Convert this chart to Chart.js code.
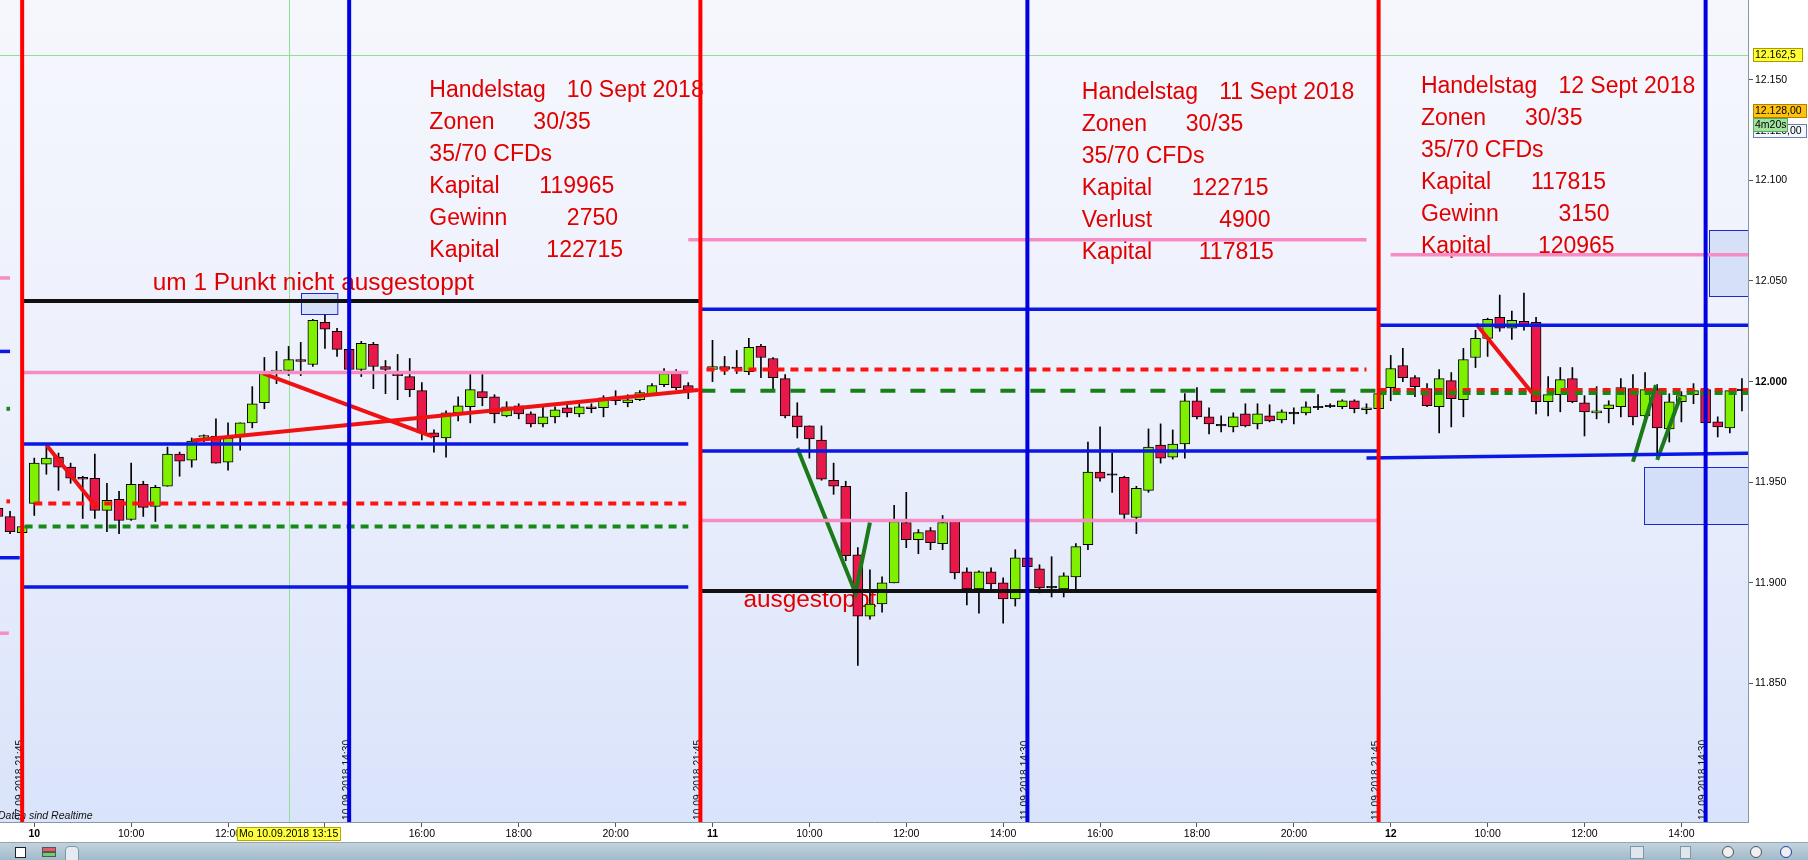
<!DOCTYPE html>
<html>
<head>
<meta charset="utf-8">
<script src="https://cdn.jsdelivr.net/npm/chart.js@4"></script>
<style>
  html, body { margin: 0; padding: 0; background: #fff; overflow: hidden; }
  #wrap { width: 1808px; height: 842px; }
  #bar { position: relative; width: 1808px; height: 18px; box-sizing: border-box; border-top: 1px solid #8fa8b8;
         background: linear-gradient(#c3d3dd, #a0bacb); }
  #bar span { position: absolute; box-sizing: border-box; }
</style>
</head>
<body>
<div id="wrap"><canvas id="chart" width="1808" height="842"></canvas></div>
<div id="bar">
  <span style="left:15px;top:4px;width:11px;height:11px;background:#fff;border:1px solid #222"></span>
  <span style="left:42px;top:4px;width:14px;height:5px;background:#e85a6a;border:1px solid #555"></span>
  <span style="left:42px;top:9px;width:14px;height:5px;background:#6bd06b;border:1px solid #555"></span>
  <span style="left:65px;top:3px;width:14px;height:15px;background:#e4ecf1;border:1px solid #7e97a8;border-radius:4px 4px 0 0"></span>
  <span style="left:1630px;top:3px;width:14px;height:13px;background:#dfe7ec;border:1px solid #7e97a8"></span>
  <span style="left:1680px;top:3px;width:11px;height:13px;background:#dfe7ec;border:1px solid #7e97a8"></span>
  <span style="left:1722px;top:3px;width:12px;height:12px;background:#f0f0f0;border:1px solid #555;border-radius:6px"></span>
  <span style="left:1750px;top:3px;width:12px;height:12px;background:#f0f0f0;border:1px solid #555;border-radius:6px"></span>
  <span style="left:1780px;top:3px;width:12px;height:12px;background:#f0f0f0;border:1px solid #2040a0;border-radius:6px"></span>
</div>
<script>
// 15-minute DAX CFD candles, index 0 = 10.09.2018 08:00 (first entry is index -3)
const firstIdx = -3;
const opens = [
  11937, 11933, 11925,
  11939.5, 11959, 11962.5, 11957.5, 11952.5, 11952, 11936, 11941.5, 11931.5, 11949,
  11938, 11948, 11964, 11961, 11972.5, 11973, 11960, 11972.5, 11979.5, 11989.5,
  12005, 12005.5, 12011, 12008.5, 12029.5, 12025, 12016, 12006, 12018.5, 12007.5,
  12003.5, 12002.5, 11995.5, 11974.5, 11972, 11984.5, 11987.5, 11995, 11992.5, 11983,
  11988, 11984, 11979, 11982.5, 11987, 11984, 11987.5, 11987, 11992.5, 11989.5,
  11991, 11994, 11998.5, 12004, 11998, 11996,
  12006, 12007.5, 12006.5, 12005, 12017.5, 12011.5, 12001.5, 11983, 11978, 11971,
  11951, 11948, 11914, 11883.5, 11889.5, 11900, 11930, 11921.5, 11926, 11919.5,
  11930.5, 11905.5, 11897, 11905.5, 11900, 11892, 11912.5, 11907, 11897.5, 11897,
  11903, 11919, 11955, 11953.5, 11952.5, 11932.5, 11946, 11968.5, 11962.5, 11969,
  11990.5, 11982.5, 11978, 11977.5, 11984, 11979, 11983, 11981, 11984, 11984.5,
  11987, 11987.5, 11987.5, 11990.5, 11986, 11986.5,
  11997, 12008, 12002, 11996.5, 11987.5, 12000.5, 11991, 12012, 12021.5, 12032,
  12026.5, 12030, 12029.5, 11990, 11993.5, 12001.5, 11989.5, 11984.5, 11986.5, 11987.5,
  11996.5, 11983, 11996, 11976.5, 11990, 11993.5, 11996, 11980, 11977, 11995.5
];
const highs = [
  11938, 11935.5, 11928.5,
  11962, 11967.5, 11964.5, 11959.5, 11953, 11964, 11949.5, 11945.5, 11959.5, 11950.5,
  11948.5, 11967.5, 11965, 11972, 11973.5, 11981.5, 11979.5, 11979.5, 11997.5, 12012,
  12015, 12017.5, 12019.5, 12031, 12033, 12026.5, 12017, 12020, 12019.5, 12010.5,
  12013.5, 12011.5, 11999.5, 11976, 11985.5, 11992.5, 12003.5, 12003.5, 11993.5, 11990,
  11989, 11985, 11987.5, 11987.5, 11988.5, 11989, 11989, 11993, 11995.5, 11993.5,
  11995.5, 11999, 12006.5, 12006, 11999.5, 11997.5,
  12020.5, 12012.5, 12015.5, 12021.5, 12018.5, 12012, 12003.5, 11989.5, 11978, 11978,
  11959.5, 11950.5, 11917.5, 11906.5, 11903, 11938.5, 11945, 11926.5, 11927.5, 11933.5,
  11930.5, 11907.5, 11906, 11907.5, 11902.5, 11916.5, 11912.5, 11909, 11913, 11905,
  11919.5, 11970, 11977.5, 11964.5, 11953, 11948, 11976.5, 11979, 11976, 11994,
  11997, 11987, 11983, 11984.5, 11989, 11989, 11988.5, 11986, 11987, 11990,
  11993.5, 11989, 11991, 11991, 11989, 11994.5,
  12013, 12016.5, 12003, 11999, 12006, 12004.5, 12016.5, 12025.5, 12031.5, 12043,
  12035, 12044, 12032, 12002.5, 12007, 12007, 11993, 11997.5, 11990.5, 12001.5,
  12003.5, 12004.5, 11998.5, 11994, 11995, 11999, 11996, 11982.5, 11995.5, 12001.5
];
const lows = [
  11931, 11924.5, 11924.5,
  11933.5, 11954, 11946, 11949.5, 11932, 11932, 11925.5, 11924.5, 11931, 11933,
  11930.5, 11948, 11953, 11957.5, 11970, 11959.5, 11956, 11966, 11977, 11986.5,
  11999, 12003, 12003, 12007.5, 12016.5, 12012.5, 12005, 12002.5, 11996.5, 11994,
  11991, 11992.5, 11971, 11965, 11962.5, 11980.5, 11979.5, 11988, 11979.5, 11982.5,
  11981.5, 11977.5, 11977.5, 11979.5, 11982.5, 11982.5, 11984.5, 11982.5, 11988.5, 11987.5,
  11990.5, 11993.5, 11997.5, 11996, 11991.5, 11994,
  12000, 12003.5, 12004, 12003.5, 12002, 11996.5, 11982, 11972, 11962, 11951,
  11944, 11911, 11859, 11882, 11885.5, 11900, 11917.5, 11914.5, 11916.5, 11916.5,
  11902, 11889, 11885, 11897, 11880, 11888.5, 11908, 11895, 11893, 11893,
  11897, 11916.5, 11950.5, 11945, 11932, 11924.5, 11945, 11959.5, 11961.5, 11962,
  11981.5, 11974, 11975, 11975, 11977.5, 11976.5, 11980, 11979.5, 11979, 11983.5,
  11986, 11987, 11986.5, 11984.5, 11984, 11986,
  11990.5, 12000, 11992.5, 11987.5, 11974.5, 11977.5, 11982.5, 12007, 12012.5, 12025,
  12021, 12025.5, 11984, 11983, 11985, 11989.5, 11973, 11981.5, 11979.5, 11982.5,
  11978.5, 11981, 11962.5, 11970, 11980, 11989, 11979.5, 11972.5, 11974.5, 11985.5
];
const closes = [
  11933, 11925.5, 11928,
  11959.5, 11962, 11957.5, 11952, 11951.5, 11936, 11941, 11931, 11949, 11937.5,
  11947.5, 11964, 11960.5, 11970.5, 11973, 11959.5, 11972, 11979.5, 11989, 12004,
  12005.5, 12011, 12010, 12030.5, 12026, 12016, 12006, 12019, 12007.5, 12006,
  12003, 11996, 11974.5, 11972.5, 11984.5, 11988, 11996, 11992, 11984, 11987.5,
  11984, 11979, 11982.5, 11986, 11984.5, 11987.5, 11986.5, 11992, 11990.5, 11991,
  11994.5, 11998, 12004, 11997, 11996, 11995.5,
  12007.5, 12006, 12006.5, 12017, 12012, 12002, 11983, 11977.5, 11971.5, 11951.5,
  11948, 11913.5, 11883.5, 11889.5, 11900, 11930.5, 11921.5, 11925, 11920, 11930,
  11905, 11897, 11905.5, 11899.5, 11892, 11912.5, 11908, 11897.5, 11897.5, 11903.5,
  11918, 11955, 11952, 11953.5, 11934, 11947, 11967.5, 11962, 11969, 11990.5,
  11982.5, 11979, 11978, 11982.5, 11978, 11984, 11980.5, 11985, 11984, 11987.5,
  11987, 11987.5, 11990.5, 11986.5, 11987, 11994,
  12006.5, 12002, 11997.5, 11988, 12001.5, 11991.5, 12011, 12021.5, 12031, 12026.5,
  12030.5, 12027.5, 11990, 11993.5, 12001, 11990, 11985, 11985.5, 11988.5, 11997,
  11982.5, 11996, 11977, 11990, 11993, 11995.5, 11979.5, 11977.5, 11995.5, 11995.5
];

// axis ticks
const xTickIdx = [0, 8, 16, 24, 32, 40, 48, 56, 64, 72, 80, 88, 96, 104, 112, 120, 128, 136];
const xTickLabels = ['10', '10:00', '12:00', '14:00', '16:00', '18:00', '20:00',
                     '11', '10:00', '12:00', '14:00', '16:00', '18:00', '20:00',
                     '12', '10:00', '12:00', '14:00'];
const yTicks = [11850, 11900, 11950, 12000, 12050, 12100, 12150];

// session marker lines (index of candle) and their captions
const closeLines = [-1, 55, 111];
const closeLabels = ['07.09.2018 21:45', '10.09.2018 21:45', '11.09.2018 21:45'];
const noonLines = [26, 82, 138];
const noonLabels = ['10.09.2018 14:30', '11.09.2018 14:30', '12.09.2018 14:30'];

// zone lines: kind, from index, to index, price
const zones = [
  ['pink', -3, -2.0, 12051.5], ['blue', -3, -2.0, 12015], ['greenDot', -2.3, -2.0, 11986.5],
  ['redDot', -2.3, -2.0, 11940.5], ['blue', -3, -1.2, 11912.5], ['pink', -3, -2.1, 11875],
  ['black', -1, 55, 12040], ['pink', -1, 54, 12004.5], ['blue', -1, 54, 11969],
  ['redDot', 0, 54, 11939.5], ['greenDot', -0.8, 54, 11928], ['blue', -1, 54, 11898],
  ['pink', 54, 110, 12070.5], ['blue', 55, 111, 12036], ['redDot', 55.5, 110, 12006],
  ['greenDash', 55, 111, 11995.5], ['blue', 55, 111, 11965.5], ['pink', 55, 111, 11931],
  ['black', 55, 111, 11896],
  ['pink', 112, 142, 12063], ['blue', 111, 142, 12028],
  ['greenDot', 111, 142, 11994.3], ['redDot', 111, 142, 11995.8]
];
const slopedBlue = [[110, 11962], [142, 11964.5]];
const redTrends = [
  [[1.0, 11968.5], [5.15, 11937.5]],
  [[13.1, 11970.7], [54.8, 11995.8]],
  [[18.9, 12004.1], [32.9, 11972.7]],
  [[119.05, 12028.6], [124.1, 11991.2]]
];
const greenTrends = [
  [[63.0, 11967], [67.8, 11895], [69.0, 11930]],
  [[132.0, 11960.2], [133.9, 11998.3]],
  [[134.0, 11961.1], [135.9, 11992.2]]
];
// boxes: from index, to index, low price, high price
const boxes = [[22, 25, 12033.5, 12044], [132.95, 143, 11929.3, 11957.4], [138.3, 143, 12042.4, 12075.1]];

// notes
const dayTitles = ['10 Sept 2018', '11 Sept 2018', '12 Sept 2018'];
const capitalStart = ['119965', '122715', '117815'];
const resultLabels = ['Gewinn', 'Verlust', 'Gewinn'];
const resultValues = ['2750', '4900', '3150'];
const capitalEnd = ['122715', '117815', '120965'];

const crossIdx = 21;
const crossPrice = 12162.5;

const xMin = -2.83, xMax = 141.5;
const yMin = 11781.2, yMax = 12189.6;

const FONT = "'Liberation Sans', Arial, sans-serif";
Chart.defaults.font.family = FONT;

const styles = {
  black: { c: '#111111', w: 4 },
  pink: { c: '#f78cc4', w: 3.5 },
  blue: { c: '#0a18e6', w: 3.5 },
  redDot: { c: '#ff1212', w: 4, d: [8, 6] },
  greenDot: { c: '#168a16', w: 4, d: [8, 6] },
  greenDash: { c: '#178017', w: 4, d: [15, 15] }
};

function lineSet(points, color, width, dash, order) {
  return {
    type: 'line',
    data: points.map(p => ({ x: p[0], y: p[1] })),
    borderColor: color,
    borderWidth: width,
    borderDash: dash || [],
    pointRadius: 0,
    tension: 0,
    clip: 0,
    order: order
  };
}

const datasets = [];

// candles: wicks then bodies
datasets.push({
  type: 'bar',
  data: lows.map((l, k) => ({ x: k + firstIdx, y: [l, highs[k]] })),
  backgroundColor: '#000',
  barThickness: 1,
  borderWidth: 0,
  grouped: false,
  order: 4
});
datasets.push({
  type: 'bar',
  data: opens.map((o, k) => ({ x: k + firstIdx, y: [o, closes[k]] })),
  backgroundColor: opens.map((o, k) => closes[k] > o ? '#7ff000' : (closes[k] < o ? '#e8194a' : '#000')),
  borderColor: '#000',
  borderWidth: 1,
  borderSkipped: false,
  barThickness: 10,
  minBarLength: 1.5,
  grouped: false,
  order: 3
});

zones.forEach(z => {
  const s = styles[z[0]];
  datasets.push(lineSet([[z[1], z[3]], [z[2], z[3]]], s.c, s.w, s.d, 2));
});
datasets.push(lineSet(slopedBlue, '#0a18e6', 3.5, null, 2));
redTrends.forEach(t => datasets.push(lineSet(t, '#f01212', 4, null, 2)));
greenTrends.forEach(t => datasets.push(lineSet(t, '#1a7a1a', 4, null, 2)));

closeLines.forEach(i => datasets.push(lineSet([[i, yMin], [i, yMax]], '#ff0000', 4, null, 1)));
noonLines.forEach(i => datasets.push(lineSet([[i, yMin], [i, yMax]], '#0000e0', 4, null, 1)));

const backdrop = {
  id: 'backdrop',
  beforeDraw(chart) {
    const { ctx, chartArea: a } = chart;
    ctx.save();
    ctx.fillStyle = '#fff';
    ctx.fillRect(0, 0, chart.width, chart.height);
    const g = ctx.createLinearGradient(0, a.top, 0, a.bottom);
    g.addColorStop(0, '#f6f7fd');
    g.addColorStop(0.5, '#ecf0fc');
    g.addColorStop(1, '#d9e3fa');
    ctx.fillStyle = g;
    ctx.fillRect(a.left, a.top, a.right - a.left, a.bottom - a.top);
    ctx.restore();
  }
};

const notes = {
  id: 'notes',
  beforeDatasetsDraw(chart) {
    const { ctx, chartArea: a, scales: { x, y } } = chart;
    ctx.save();
    ctx.beginPath();
    ctx.rect(a.left, a.top, a.right - a.left, a.bottom - a.top);
    ctx.clip();

    // boxes
    boxes.forEach(b => {
      const x1 = x.getPixelForValue(b[0]), x2 = x.getPixelForValue(b[1]);
      const y1 = y.getPixelForValue(b[3]), y2 = y.getPixelForValue(b[2]);
      ctx.fillStyle = 'rgba(200,215,246,0.65)';
      ctx.fillRect(x1, y1, x2 - x1, y2 - y1);
      ctx.strokeStyle = '#1a2ad0';
      ctx.lineWidth = 1;
      ctx.strokeRect(Math.round(x1) + 0.5, Math.round(y1) + 0.5, x2 - x1, Math.round(y2 - y1));
    });

    // crosshair
    ctx.strokeStyle = '#8fe08f';
    ctx.lineWidth = 1;
    const cx = Math.round(x.getPixelForValue(crossIdx)) + 0.5;
    const cy = Math.round(y.getPixelForValue(crossPrice)) + 0.5;
    ctx.beginPath();
    ctx.moveTo(cx, a.top); ctx.lineTo(cx, a.bottom);
    ctx.moveTo(a.left, cy); ctx.lineTo(a.right, cy);
    ctx.stroke();

    // day notes
    ctx.fillStyle = '#e10000';
    ctx.font = '23px ' + FONT;
    ctx.textBaseline = 'alphabetic';
    ctx.textAlign = 'left';
    const blockPos = [[32.62, 12141.6], [86.49, 12140.3], [114.49, 12143.5]];
    dayTitles.forEach((t, d) => {
      const bx = x.getPixelForValue(blockPos[d][0]);
      const by = y.getPixelForValue(blockPos[d][1]);
      const rows = [
        ['Handelstag', t, 137.5],
        ['Zonen', '30/35', 104],
        ['35/70 CFDs', '', 0],
        ['Kapital', capitalStart[d], 110],
        [resultLabels[d], resultValues[d], 137.5],
        ['Kapital', capitalEnd[d], 117]
      ];
      rows.forEach((r, k) => {
        ctx.fillText(r[0], bx, by + k * 32);
        if (r[1]) ctx.fillText(r[1], bx + r[2], by + k * 32);
      });
    });
    ctx.font = '24.4px ' + FONT;
    ctx.fillText('um 1 Punkt nicht ausgestoppt', x.getPixelForValue(9.78), y.getPixelForValue(12045.5));
    ctx.fillText('ausgestoppt', x.getPixelForValue(58.55), y.getPixelForValue(11887.9));

    // captions of the marker lines
    ctx.fillStyle = '#111';
    ctx.font = '10.3px ' + FONT;
    const caps = closeLines.map((i, k) => [i, closeLabels[k]]).concat(noonLines.map((i, k) => [i, noonLabels[k]]));
    caps.forEach(c => {
      ctx.save();
      ctx.translate(x.getPixelForValue(c[0]) + 0.5, a.bottom - 2);
      ctx.rotate(-Math.PI / 2);
      ctx.fillText(c[1], 0, 0);
      ctx.restore();
    });

    ctx.font = 'italic 10.5px ' + FONT;
    ctx.fillText('Daten sind Realtime', -2, a.bottom - 3);
    ctx.restore();
  }
};

const tags = {
  id: 'tags',
  afterDraw(chart) {
    const { ctx, chartArea: a, scales: { x, y } } = chart;
    ctx.save();
    ctx.font = '10.5px ' + FONT;
    ctx.textBaseline = 'middle';
    ctx.textAlign = 'left';
    const list = [
      ['12.162,5', 12162.1, '#ffff33', '#a89a00', 50],
      ['12.128,00', 12134.6, '#ffc20e', '#b08000', 54],
      ['12.120,00', 12124.5, '#f4f7ff', '#6a7fb0', 54],
      ['4m20s', 12127.6, '#9fe39f', '#5aa85a', 35]
    ];
    list.forEach(t => {
      const py = Math.round(y.getPixelForValue(t[1]));
      ctx.fillStyle = t[2];
      ctx.fillRect(a.right + 5, py - 7, t[4], 14);
      ctx.strokeStyle = t[3];
      ctx.lineWidth = 1;
      ctx.strokeRect(a.right + 5.5, py - 6.5, t[4] - 1, 13);
      ctx.fillStyle = '#000';
      ctx.fillText(t[0], a.right + 7, py + 0.5);
    });

    // time label of the crosshair
    const cx = x.getPixelForValue(crossIdx);
    const w = 103;
    ctx.fillStyle = '#ffff3c';
    ctx.fillRect(cx - 52, a.bottom + 5, w, 14);
    ctx.strokeStyle = '#b7a700';
    ctx.strokeRect(Math.round(cx - 52) + 0.5, a.bottom + 5.5, w, 13);
    ctx.fillStyle = '#000';
    ctx.textAlign = 'center';
    ctx.fillText('Mo 10.09.2018 13:15', cx, a.bottom + 12.5);
    ctx.restore();
  }
};

function noPad(s) {
  s.paddingTop = 0; s.paddingBottom = 0; s.paddingLeft = 0; s.paddingRight = 0;
}

new Chart(document.getElementById('chart').getContext('2d'), {
  type: 'bar',
  data: { datasets: datasets },
  options: {
    responsive: false,
    animation: false,
    events: [],
    layout: { padding: 0, autoPadding: false },
    plugins: { legend: { display: false }, tooltip: { enabled: false } },
    scales: {
      x: {
        type: 'linear',
        min: xMin,
        max: xMax,
        offset: false,
        grid: { display: true, drawOnChartArea: false, offset: false, tickLength: 5, color: '#555' },
        border: { color: '#8797a8' },
        afterBuildTicks: s => { s.ticks = xTickIdx.map(v => ({ value: v })); },
        afterFit: s => { s.height = 20; noPad(s); },
        ticks: {
          autoSkip: false,
          maxRotation: 0,
          padding: 1,
          color: '#000',
          font: c => ({ size: 10.5, weight: (xTickLabels[c.index] || '').length <= 2 ? 'bold' : 'normal' }),
          callback: (v, i) => xTickLabels[i]
        }
      },
      y: {
        type: 'linear',
        position: 'right',
        min: yMin,
        max: yMax,
        grid: { display: true, drawOnChartArea: false, tickLength: 5, color: '#555' },
        border: { color: '#8797a8' },
        afterBuildTicks: s => { s.ticks = yTicks.map(v => ({ value: v })); },
        afterFit: s => { s.width = 60; noPad(s); },
        ticks: {
          padding: 2,
          color: '#000',
          font: c => ({ size: 10.5, weight: c.tick && c.tick.value === 12000 ? 'bold' : 'normal' }),
          callback: v => Math.floor(v / 1000) + '.' + String(v % 1000).padStart(3, '0')
        }
      }
    }
  },
  plugins: [backdrop, notes, tags]
});
</script>
</body>
</html>
